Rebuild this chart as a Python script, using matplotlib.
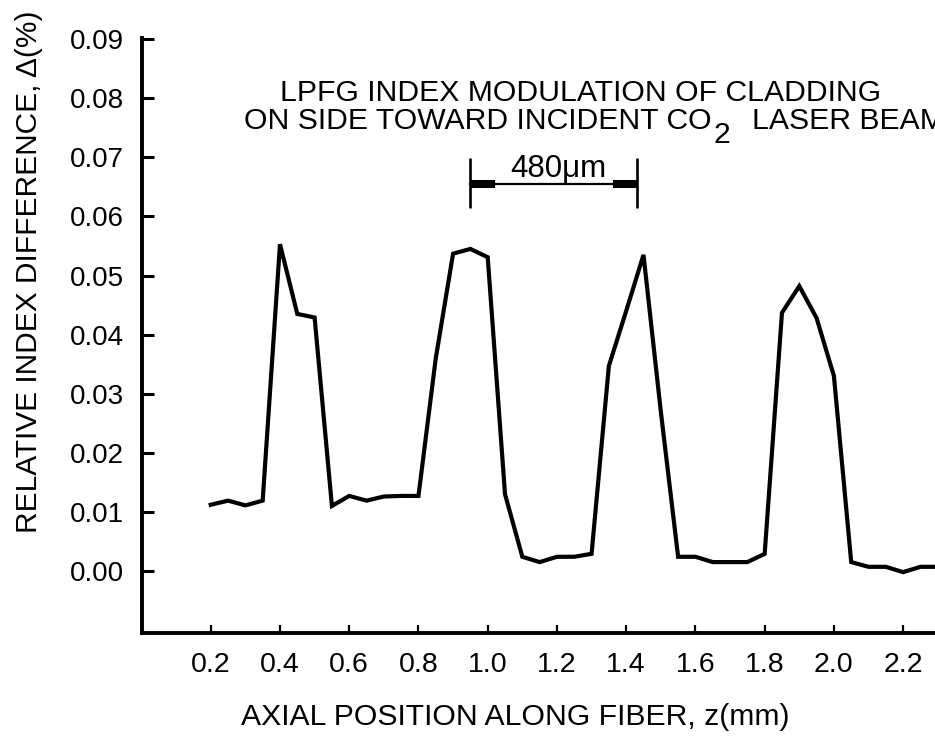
import matplotlib
matplotlib.use("Agg")
import matplotlib.pyplot as plt

# axial position along fiber (mm) and relative index difference (%)
z_mm = [0.20, 0.25, 0.30, 0.35, 0.40, 0.45, 0.50, 0.55, 0.60, 0.65,
        0.70, 0.75, 0.80, 0.85, 0.90, 0.95, 1.00, 1.05, 1.10, 1.15,
        1.20, 1.25, 1.30, 1.35, 1.40, 1.45, 1.50, 1.55, 1.60, 1.65,
        1.70, 1.75, 1.80, 1.85, 1.90, 1.95, 2.00, 2.05, 2.10, 2.15,
        2.20, 2.25, 2.30]
delta_pct = [0.0112, 0.0119, 0.0111, 0.0119, 0.0553, 0.0435, 0.0429, 0.0110, 0.0127, 0.0119,
             0.0126, 0.0127, 0.0127, 0.0360, 0.0537, 0.0545, 0.0531, 0.0130, 0.0024, 0.0015,
             0.0024, 0.0024, 0.0029, 0.0347, 0.0440, 0.0535, 0.0270, 0.0024, 0.0024, 0.0015,
             0.0015, 0.0015, 0.0029, 0.0437, 0.0482, 0.0428, 0.0330, 0.0015, 0.0007, 0.0007,
             -0.0002, 0.0007, 0.0007]

y_ticks = [0.00, 0.01, 0.02, 0.03, 0.04, 0.05, 0.06, 0.07, 0.08, 0.09]
x_ticks = [0.2, 0.4, 0.6, 0.8, 1.0, 1.2, 1.4, 1.6, 1.8, 2.0, 2.2]

# grating period marker (mm)
period_start, period_end = 0.95, 1.43

plt.rcParams['font.family'] = ['Liberation Sans', 'DejaVu Sans']

W, H = 935, 738
fig = plt.figure(figsize=(W / 100, H / 100), dpi=100)
left, right, top, bottom = 141.5, 935, 38, 633
ax = fig.add_axes([left / W, 1 - bottom / H, (right - left) / W, (bottom - top) / H])

ax.plot(z_mm, delta_pct, color='black', lw=3.0, solid_joinstyle='miter')

ax.set_xlim(0, 2.292)
ax.set_ylim(-0.0105, 0.0902)
ax.spines['top'].set_visible(False)
ax.spines['right'].set_visible(False)
for s in ['left', 'bottom']:
    ax.spines[s].set_linewidth(2.8)

ax.set_yticks(y_ticks)
ax.set_yticklabels(["%.2f" % v for v in y_ticks])
ax.set_xticks(x_ticks)
ax.set_xticklabels(["%.1f" % v for v in x_ticks])
ax.tick_params(axis='y', direction='in', length=8.5, width=2.2, pad=12.5, labelsize=20)
ax.tick_params(axis='x', direction='in', length=6, width=1.6, pad=13.5, labelsize=20.5)

# heading text inside the plot
ax.text(1.269, 0.0796, "LPFG INDEX MODULATION OF CLADDING",
        ha='center', va='baseline', fontsize=21.7)
t2 = ax.text(0.295, 0.0748, "ON SIDE TOWARD INCIDENT CO",
             ha='left', va='baseline', fontsize=21.7)
sub = ax.annotate("2", xy=(1, 0), xycoords=t2, xytext=(1.5, -10),
                  textcoords='offset points', ha='left', va='bottom', fontsize=21.7)
ax.annotate("LASER BEAM", xy=(1, 0), xycoords=(sub, t2), xytext=(16, 0),
            textcoords='offset points', ha='left', va='bottom', fontsize=21.7)

# 480 um period bar
bar_y = 0.0655
ax.plot([period_start, period_end], [bar_y, bar_y], color='black', lw=1.6)
ax.plot([period_start, period_start + 0.072], [bar_y, bar_y], color='black', lw=5.8,
        solid_capstyle='butt')
ax.plot([period_end - 0.067, period_end], [bar_y, bar_y], color='black', lw=5.8,
        solid_capstyle='butt')
ax.vlines([period_start, period_end], 0.0615, 0.0699, color='black', lw=1.9)
ax.text(1.205, 0.0681, "480\u03bcm", ha='center', va='center', fontsize=22.5)

fig.text(515 / W, 1 - 717 / H, "AXIAL POSITION ALONG FIBER, z(mm)",
         ha='center', va='center', fontsize=21.7)
fig.text(29 / W, 1 - 272 / H, "RELATIVE INDEX DIFFERENCE, \u0394(%)",
         rotation=90, ha='center', va='center', fontsize=21.5)

fig.savefig('out.png', dpi=100)
